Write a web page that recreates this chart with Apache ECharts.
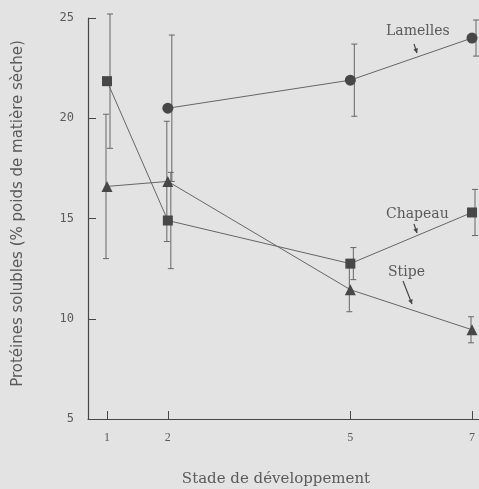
<!DOCTYPE html>
<html><head><meta charset="utf-8">
<script src="https://cdn.jsdelivr.net/npm/echarts@6/dist/echarts.min.js"></script>
<style>html,body{margin:0;padding:0;background:#e3e3e3}#c{width:479px;height:489px}</style>
</head><body><div id="c"></div>
<script>
var stages = [1, 2, 5, 7];
var xTicks = [1, 2, 5, 7];
var yTicks = [5, 10, 15, 20, 25];
var lamellesStages = [2, 5, 7];
var lamellesMean = [20.5, 21.9, 24.0];
var lamellesErr = [3.65, 1.8, 0.9];
var chapeauMean = [21.85, 14.9, 12.75, 15.3];
var chapeauErr = [3.35, 2.4, 0.8, 1.15];
var stipeMean = [16.6, 16.85, 11.45, 9.45];
var stipeErr = [3.6, 3.0, 1.1, 0.65];

var ink = '#474747', lineC = '#666', txt = '#5a5a5a';
var chart = echarts.init(document.getElementById('c'), null, {renderer: 'canvas'});

function pairs(xs, ys) { return xs.map(function (x, i) { return [x, ys[i]]; }); }
function errData(xs, m, e) { return xs.map(function (x, i) { return [x, m[i] - e[i], m[i] + e[i]]; }); }
function errSeries(data, dx) {
  return {
    type: 'custom', data: data, z: 2, silent: true,
    renderItem: function (params, api) {
      var lo = api.coord([api.value(0), api.value(1)]);
      var hi = api.coord([api.value(0), api.value(2)]);
      var x = lo[0] + dx, w = 3;
      var st = {stroke: lineC, lineWidth: 1};
      return {type: 'group', children: [
        {type: 'line', shape: {x1: x, y1: lo[1], x2: x, y2: hi[1]}, style: st},
        {type: 'line', shape: {x1: x - w, y1: lo[1], x2: x + w, y2: lo[1]}, style: st},
        {type: 'line', shape: {x1: x - w, y1: hi[1], x2: x + w, y2: hi[1]}, style: st}
      ]};
    }
  };
}
function lineSeries(name, data, symbol, size) {
  return {
    name: name, type: 'line', data: data, symbol: symbol, symbolSize: size, z: 3,
    lineStyle: {color: lineC, width: 1}, itemStyle: {color: ink}, silent: true
  };
}
function arrow(x1, y1, x2, y2) {
  var a = Math.atan2(y2 - y1, x2 - x1), L = 5, s = 0.5;
  return [
    {type: 'line', shape: {x1: x1, y1: y1, x2: x2, y2: y2}, style: {stroke: ink, lineWidth: 1.2}},
    {type: 'polygon', shape: {points: [[x2, y2],
      [x2 - L * Math.cos(a - s), y2 - L * Math.sin(a - s)],
      [x2 - L * Math.cos(a + s), y2 - L * Math.sin(a + s)]]}, style: {fill: ink}}
  ];
}
var serif = '"DejaVu Serif", "Liberation Serif", serif';
var lblFont = '14px ' + serif;

chart.setOption({
  backgroundColor: '#e3e3e3',
  animation: false,
  grid: {left: 88, top: 18, width: 391, height: 401, containLabel: false, outerBoundsMode: 'none'},
  xAxis: {
    type: 'value', min: 0.6875, max: 7.115,
    name: 'Stade de développement', nameLocation: 'middle', nameGap: 53,
    nameTextStyle: {color: txt, fontSize: 15, fontFamily: serif, padding: [0, 15, 0, 0]},
    axisLine: {show: true, onZero: false, lineStyle: {color: ink, width: 1.2}},
    axisTick: {show: true, inside: true, length: 8, customValues: xTicks, lineStyle: {color: ink}},
    axisLabel: {customValues: xTicks, color: txt, fontSize: 12, margin: 13, fontFamily: '"Liberation Serif", serif'},
    splitLine: {show: false}
  },
  yAxis: {
    type: 'value', min: 5, max: 25, interval: 5,
    name: 'Protéines solubles (% poids de matière sèche)', nameLocation: 'middle', nameGap: 62,
    nameTextStyle: {color: txt, fontSize: 15, fontFamily: '"DejaVu Sans", sans-serif', padding: [0, 0, 0, 10]},
    axisLine: {show: true, onZero: false, lineStyle: {color: ink, width: 1.2}},
    axisTick: {show: true, inside: true, length: 8, lineStyle: {color: ink}},
    axisLabel: {color: txt, fontSize: 12, margin: 14, fontFamily: '"DejaVu Sans Mono", monospace'},
    splitLine: {show: false}
  },
  series: [
    errSeries(errData(lamellesStages, lamellesMean, lamellesErr), 4),
    errSeries(errData(stages, chapeauMean, chapeauErr), 3),
    errSeries(errData(stages, stipeMean, stipeErr), -1),
    lineSeries('Lamelles', pairs(lamellesStages, lamellesMean), 'circle', 11),
    lineSeries('Chapeau', pairs(stages, chapeauMean), 'rect', 10),
    lineSeries('Stipe', pairs(stages, stipeMean), 'triangle', 11)
  ],
  graphic: [
    {type: 'text', left: 386, top: 24, style: {text: 'Lamelles', font: lblFont, fill: txt}},
    {type: 'text', left: 386, top: 207, style: {text: 'Chapeau', font: lblFont, fill: txt}},
    {type: 'text', left: 388, top: 265, style: {text: 'Stipe', font: lblFont, fill: txt}}
  ].concat(arrow(414, 44, 417, 53), arrow(414, 224, 417, 233), arrow(403, 281, 412, 304))
});
</script></body></html>
